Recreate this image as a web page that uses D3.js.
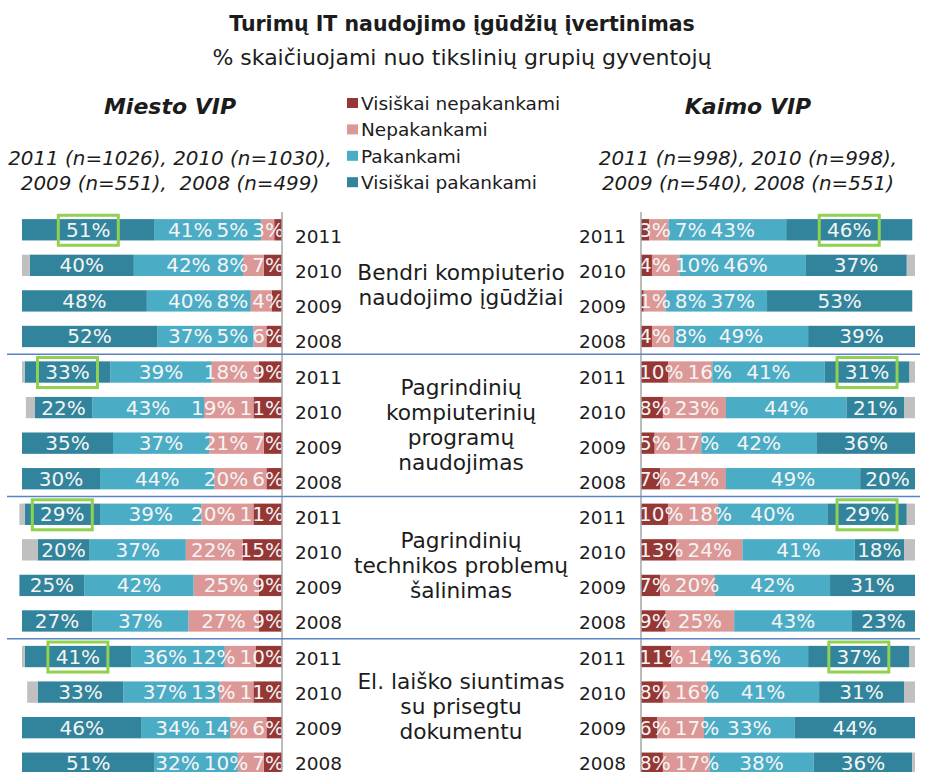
<!DOCTYPE html>
<html>
<head>
<meta charset="utf-8">
<script src="https://cdn.jsdelivr.net/npm/d3@7"></script>
<style>
  body { margin: 0; background: #ffffff; }
  text { font-family: "DejaVu Sans", Verdana, sans-serif; }
</style>
</head>
<body>
<div id="chart"></div>
<script>
// chart values
var years = ["2011", "2010", "2009", "2008"];
var topics = [
    ["Bendri kompiuterio", "naudojimo įgūdžiai"],
    ["Pagrindinių", "kompiuterinių", "programų", "naudojimas"],
    ["Pagrindinių", "technikos problemų", "šalinimas"],
    ["El. laiško siuntimas", "su prisegtu", "dokumentu"]
];
var legendLabels = ["Visiškai nepakankami", "Nepakankami", "Pakankami", "Visiškai pakankami"];

// Miesto VIP, 4 topics x 4 years (2011..2008)
var miestoVisNep = [3, 7, 4, 6,   9, 11, 7, 6,   11, 15, 9, 9,   10, 11, 6, 7];
var miestoNep    = [5, 8, 8, 5,   18, 19, 21, 20, 20, 22, 25, 27, 12, 13, 14, 10];
var miestoPak    = [41, 42, 40, 37, 39, 43, 37, 44, 39, 37, 42, 37, 36, 37, 34, 32];
var miestoVisPak = [51, 40, 48, 52, 33, 22, 35, 30, 29, 20, 25, 27, 41, 33, 46, 51];
var miestoGrey   = [0, 3, 0, 0,   1, 3.5, 0, 0,  2, 6, 0, 0,     1, 4, 0, 0];

// Kaimo VIP
var kaimoVisNep = [3, 4, 1, 4,    10, 8, 5, 7,   10, 13, 7, 9,   11, 8, 6, 8];
var kaimoNep    = [7, 10, 8, 8,   16, 23, 17, 24, 18, 24, 20, 25, 14, 16, 17, 17];
var kaimoPak    = [43, 46, 37, 49, 41, 44, 42, 49, 40, 41, 42, 43, 36, 41, 33, 38];
var kaimoVisPak = [46, 37, 53, 39, 31, 21, 36, 20, 29, 18, 31, 23, 37, 31, 44, 36];
var kaimoGrey   = [0, 3, 0, 0,    2, 4, 0, 0,    3, 4, 0, 0,     2, 4, 0, 1];

var colors = ["#953735", "#dc9896", "#4bacc6", "#31849b"];
var greyColor = "#c0c0c0";
var textColor = "#1c1c1c";

var svg = d3.select("#chart")
            .append("svg")
            .attr("width", 925)
            .attr("height", 772);

// titles
svg.append("text")
    .attr("x", 462).attr("y", 31)
    .attr("text-anchor", "middle")
    .style("font-size", "20.5px").style("font-weight", "bold")
    .style("fill", textColor)
    .text("Turimų IT naudojimo įgūdžių įvertinimas");

svg.append("text")
    .attr("x", 462).attr("y", 65)
    .attr("text-anchor", "middle")
    .style("font-size", "22px")
    .style("fill", textColor)
    .text("% skaičiuojami nuo tikslinių grupių gyventojų");

function sideHeader(x, name, lines){
    svg.append("text")
        .attr("x", x).attr("y", 114)
        .attr("text-anchor", "middle")
        .style("font-size", "22px").style("font-weight", "bold").style("font-style", "italic")
        .style("fill", textColor)
        .text(name);
    lines.forEach(function(l, i){
        svg.append("text")
            .attr("x", x).attr("y", 165 + i * 25)
            .attr("text-anchor", "middle")
            .style("font-size", "19.9px").style("font-style", "italic")
            .style("fill", textColor)
            .style("white-space", "pre")
            .text(l);
    });
}
sideHeader(170, "Miesto VIP", ["2011 (n=1026), 2010 (n=1030),", "2009 (n=551),  2008 (n=499)"]);
sideHeader(748, "Kaimo VIP", ["2011 (n=998), 2010 (n=998),", "2009 (n=540), 2008 (n=551)"]);

// legend
var legend = svg.selectAll(".legend")
    .data(legendLabels)
    .enter()
    .append("g")
    .attr("class", "legend")
    .attr("transform", function(d, i){ return "translate(347," + (103 + i * 26.4) + ")"; });
legend.append("rect")
    .attr("x", 0).attr("y", -5)
    .attr("width", 11).attr("height", 10)
    .attr("fill", function(d, i){ return colors[i]; });
legend.append("text")
    .attr("x", 14).attr("y", 7)
    .style("font-size", "18.5px")
    .style("fill", textColor)
    .text(function(d){ return d; });

// scales
var nRows = topics.length * years.length;
var y = d3.scaleBand()
    .domain(d3.range(nRows))
    .range([212, 781])
    .paddingInner(0.4)
    .paddingOuter(0.2);
var bw = y.bandwidth();
// year labels sit on a slightly tighter pitch than the bars
var yLab = d3.scalePoint()
    .domain(d3.range(nRows))
    .range([243, 770]);

var xL = d3.scaleLinear().domain([0, 100]).range([282, 22]);
var xR = d3.scaleLinear().domain([0, 100]).range([641, 915]);

function drawSide(series, grey, x, dir){
    var axis = x(0);
    var g = svg.append("g");
    for (var r = 0; r < nRows; r++){
        var vals = series.map(function(s){ return s[r]; });
        vals.push(grey[r]);
        var cum = 0;
        var segs = vals.map(function(v, i){
            var s = {i: i, v: v, a: cum, b: cum + v};
            cum += v;
            return s;
        });
        var cy = y(r);
        g.selectAll(null)
            .data(segs.filter(function(s){ return s.v > 0; }))
            .enter()
            .append("rect")
            .attr("x", function(s){ return Math.min(x(s.a), x(s.b)); })
            .attr("y", cy)
            .attr("width", function(s){ return Math.abs(x(s.b) - x(s.a)); })
            .attr("height", bw)
            .attr("fill", function(s){ return s.i < 4 ? colors[s.i] : greyColor; });

        // labels, pushed outward from the axis so they do not overlap
        var edge = axis - 2 * dir;
        segs.slice(0, 4).forEach(function(s){
            var t = g.append("text")
                .attr("y", cy + bw / 2 + 7)
                .attr("text-anchor", "middle")
                .style("font-size", "20px")
                .style("fill", "#f4f4f4")
                .text(s.v + "%");
            var w = t.node().getComputedTextLength();
            var c = x((s.a + s.b) / 2);
            var pos = dir > 0 ? Math.max(c, edge + w / 2) : Math.min(c, edge - w / 2);
            edge = pos + dir * (w / 2 + 4);
            t.attr("x", pos);
            if (s.i == 3 && r % 4 == 0){
                g.append("rect")
                    .attr("x", pos - 30).attr("y", cy + bw / 2 - 14.5)
                    .attr("width", 60).attr("height", 30)
                    .attr("fill", "none")
                    .attr("stroke", "#92d050")
                    .attr("stroke-width", 3);
            }
        });
    }
    g.append("line")
        .attr("x1", axis).attr("x2", axis)
        .attr("y1", 212).attr("y2", 772)
        .attr("stroke", "#a6a6a6").attr("stroke-width", 1.5);
}

drawSide([miestoVisNep, miestoNep, miestoPak, miestoVisPak], miestoGrey, xL, -1);
drawSide([kaimoVisNep, kaimoNep, kaimoPak, kaimoVisPak], kaimoGrey, xR, 1);

// year labels
var yearRows = d3.range(nRows);
svg.selectAll(".yearL")
    .data(yearRows)
    .enter()
    .append("text")
    .attr("x", 295)
    .attr("y", function(r){ return yLab(r); })
    .style("font-size", "18.5px")
    .style("fill", textColor)
    .text(function(r){ return years[r % 4]; });
svg.selectAll(".yearR")
    .data(yearRows)
    .enter()
    .append("text")
    .attr("x", 626)
    .attr("y", function(r){ return yLab(r); })
    .attr("text-anchor", "end")
    .style("font-size", "18.5px")
    .style("fill", textColor)
    .text(function(r){ return years[r % 4]; });

// separators between topics
d3.range(1, topics.length).forEach(function(k){
    var r = k * 4;
    var sy = (y(r - 1) + bw + y(r)) / 2;
    svg.append("line")
        .attr("x1", 7).attr("x2", 920)
        .attr("y1", sy).attr("y2", sy)
        .attr("stroke", "#5b84c6").attr("stroke-width", 1.5);
});

// topic names in the middle
topics.forEach(function(lines, k){
    var mid = (yLab(k * 4) + yLab(k * 4 + 3)) / 2 - 3.5;
    lines.forEach(function(l, j){
        svg.append("text")
            .attr("x", 461)
            .attr("y", mid + (j - (lines.length - 1) / 2) * 25)
            .attr("text-anchor", "middle")
            .style("font-size", "21.7px")
            .style("fill", textColor)
            .text(l);
    });
});
</script>
</body>
</html>
